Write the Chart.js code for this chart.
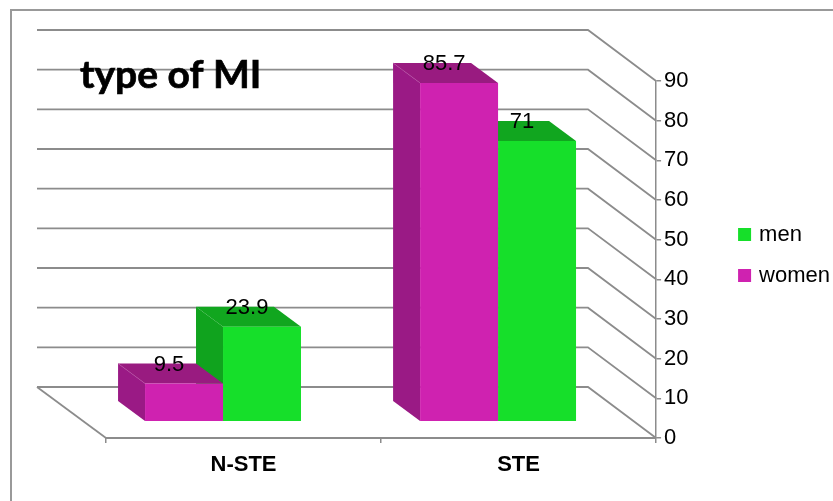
<!DOCTYPE html>
<html>
<head>
<meta charset="utf-8">
<style>html,body{margin:0;padding:0;background:#fff}canvas{display:block}</style>
<script src="https://cdn.jsdelivr.net/npm/chart.js@4"></script>
</head>
<body>
<canvas id="c" width="833" height="501" style="width:833px;height:501px"></canvas>
<script>
const categories = ['N-STE', 'STE'];
const womenValues = [9.5, 85.7];
const menValues = [23.9, 71];
const yTicks = [0, 10, 20, 30, 40, 50, 60, 70, 80, 90];
const titleText = 'type of MI';

const AXIS = '#8c8c8c';
const WOMEN = '#cf22b0', WOMEN_SIDE = '#9a1a85', WOMEN_TOP = '#991b80';
const MEN = '#16df2a', MEN_SIDE = '#10a31e', MEN_TOP = '#11a61f';
const SHIFT_X = -20.5, SHIFT_Y = -17, DEPTH_X = -27, DEPTH_Y = -20;
const WALL_X = 588, FLOOR_LEFT_BACK = 37, WALL_DY = -51;

const scene = {
  id: 'scene',
  afterLayout(chart) {
    const lg = chart.legend;
    lg.left += 7; lg.right += 7; lg.top -= 36; lg.bottom -= 36;
  },
  beforeDatasetsDraw(chart) {
    const ctx = chart.ctx, y = chart.scales.y, a = chart.chartArea;
    ctx.save();
    // frame
    ctx.strokeStyle = '#999'; ctx.lineWidth = 2;
    ctx.beginPath(); ctx.moveTo(11, 501); ctx.lineTo(11, 10); ctx.lineTo(833, 10); ctx.stroke();
    // back wall and side wall
    ctx.strokeStyle = AXIS; ctx.lineWidth = 1.8;
    yTicks.forEach(v => {
      const p = y.getPixelForValue(v);
      ctx.beginPath();
      ctx.moveTo(FLOOR_LEFT_BACK, p + WALL_DY);
      ctx.lineTo(WALL_X, p + WALL_DY);
      ctx.lineTo(a.right, p);
      ctx.stroke();
    });
    // floor left edge
    ctx.beginPath();
    ctx.moveTo(FLOOR_LEFT_BACK, a.bottom + WALL_DY);
    ctx.lineTo(a.left, a.bottom);
    ctx.stroke();
    ctx.restore();

    ctx.save();
    ctx.translate(SHIFT_X, SHIFT_Y);
    const face = (pts, col) => {
      ctx.fillStyle = col; ctx.beginPath();
      pts.forEach((q, i) => i ? ctx.lineTo(q[0], q[1]) : ctx.moveTo(q[0], q[1]));
      ctx.closePath(); ctx.fill();
    };
    [[1, MEN_SIDE, MEN_TOP], [0, WOMEN_SIDE, WOMEN_TOP]].forEach(([ds, side, top]) => {
      chart.getDatasetMeta(ds).data.forEach(b => {
        const l = b.x - b.width / 2, r = b.x + b.width / 2;
        face([[l, b.y], [l + DEPTH_X, b.y + DEPTH_Y], [l + DEPTH_X, b.base + DEPTH_Y], [l, b.base]], side);
        face([[l, b.y], [l + DEPTH_X, b.y + DEPTH_Y], [r + DEPTH_X, b.y + DEPTH_Y], [r, b.y]], top);
        if (ds === 0) {
          ctx.strokeStyle = '#b64aa2'; ctx.lineWidth = 0.6;
          ctx.beginPath();
          ctx.moveTo(l, b.y); ctx.lineTo(l + DEPTH_X, b.y + DEPTH_Y);
          ctx.stroke();
        }
      });
    });
    ctx.restore();
    // bars themselves share the same shift
    ctx.save();
    ctx.translate(SHIFT_X, SHIFT_Y);
  },
  afterDatasetsDraw(chart) {
    const ctx = chart.ctx;
    ctx.restore();
    ctx.save();
    ctx.fillStyle = '#000';
    ctx.font = '22px "Liberation Sans"';
    ctx.textAlign = 'center'; ctx.textBaseline = 'middle';
    [0, 1].forEach(ds => {
      chart.getDatasetMeta(ds).data.forEach((b, i) => {
        const v = chart.data.datasets[ds].data[i];
        ctx.fillText(String(v), b.x + SHIFT_X - 15, b.y + SHIFT_Y - 19);
      });
    });
    ctx.font = 'bold 39px Lato';
    ctx.textAlign = 'left'; ctx.textBaseline = 'alphabetic';
    ctx.strokeStyle = '#000'; ctx.lineWidth = 0.7;
    ctx.fillText(titleText, 80, 88);
    ctx.strokeText(titleText, 80, 88);
    ctx.restore();
  }
};

new Chart(document.getElementById('c'), {
  type: 'bar',
  data: {
    labels: categories,
    datasets: [
      { label: 'women', data: womenValues, backgroundColor: WOMEN, borderWidth: 0, yAxisID: 'yFront' },
      { label: 'men', data: menValues, backgroundColor: MEN, borderWidth: 0, yAxisID: 'yFront' }
    ]
  },
  options: {
    responsive: false,
    animation: false,
    devicePixelRatio: 1,
    layout: { padding: { left: 106, top: 81, right: 0, bottom: 0 } },
    datasets: { bar: { barPercentage: 1, categoryPercentage: 0.567 } },
    plugins: {
      title: { display: false },
      tooltip: { enabled: false },
      legend: {
        position: 'right',
        reverse: true,
        labels: {
          color: '#000',
          font: { family: '"Liberation Sans"', size: 22 },
          boxWidth: 7, boxHeight: 7, padding: 19,
          generateLabels(chart) {
            return Chart.defaults.plugins.legend.labels.generateLabels(chart).map(l => {
              l.strokeStyle = l.fillStyle; l.lineWidth = 6; return l;
            });
          }
        }
      }
    },
    scales: {
      x: {
        grid: { display: true, drawOnChartArea: false, drawTicks: true, tickLength: 5, color: AXIS, lineWidth: 1.5, offset: true },
        border: { display: true, color: AXIS, width: 2 },
        ticks: { color: '#000', font: { family: '"Liberation Sans"', size: 22, weight: 'bold' }, padding: 9, maxRotation: 0 },
        afterFit(s) { s.height = 63; }
      },
      y: {
        position: 'right', min: 0, max: 90,
        grid: { display: true, drawOnChartArea: false, drawTicks: true, tickLength: 5, color: AXIS, lineWidth: 1.5 },
        border: { display: true, color: AXIS, width: 1.5 },
        ticks: { color: '#000', font: { family: '"Liberation Sans"', size: 22 }, padding: 3, stepSize: 10 },
        afterFit(s) { s.width = 59; }
      },
      yFront: { display: false, min: 0, max: 90.5 }
    }
  },
  plugins: [scene]
});
</script>
</body>
</html>
